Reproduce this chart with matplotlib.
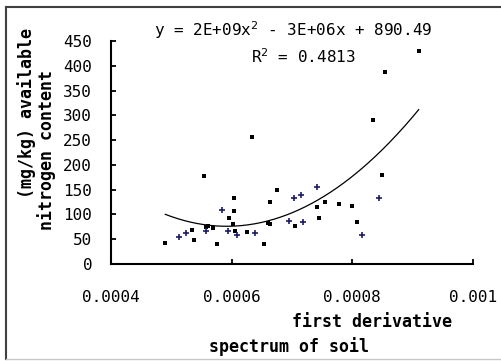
import numpy as np
import matplotlib
matplotlib.use("Agg")
import matplotlib.pyplot as plt
from matplotlib.lines import Line2D

# samples drawn with "+" markers (navy)
plus_x = [0.000512, 0.000525, 0.000558, 0.000584, 0.000594, 0.000609, 0.000639,
          0.000695, 0.000704, 0.000715, 0.000718, 0.000741, 0.000816, 0.000845]
plus_y = [54, 63, 67, 109, 67, 58, 62, 87, 134, 140, 84, 156, 58, 134]

# samples drawn with small black markers
dot_x = [0.000490, 0.000534, 0.000537, 0.000554, 0.000558, 0.000561, 0.000569,
         0.000576, 0.000596, 0.000604, 0.000604, 0.000602, 0.000605, 0.000625,
         0.000634, 0.000653, 0.000664, 0.000675, 0.000660, 0.000663, 0.000705,
         0.000741, 0.000744, 0.000755, 0.000778, 0.000800, 0.000808, 0.000834,
         0.000850, 0.000854, 0.000910]
dot_y = [42, 69, 49, 177, 74, 76, 72, 41, 92, 134, 107, 81, 67, 65,
         256, 41, 125, 149, 82, 80, 77, 116, 93, 126, 122, 118, 85, 290,
         180, 388, 429]

# polynomial trend line (as drawn)
coef = [2.325e9, -2.752e6, 890.49]
trend_range = [0.00049, 0.00091]

x_ticks = [0.0004, 0.0006, 0.0008, 0.001]
x_tick_labels = ["0.0004", "0.0006", "0.0008", "0.001"]
y_ticks = list(range(0, 451, 50))

W, H = 502, 361
fig = plt.figure(figsize=(W / 100, H / 100), dpi=100)
ax = fig.add_axes([111 / W, 1 - 264 / H, (473 - 111) / W, (264 - 41) / H])

mono = "DejaVu Sans Mono"

ax.plot(dot_x, dot_y, linestyle="none", marker="s", ms=2.3, color="black", mew=0)
ax.plot(plus_x, plus_y, linestyle="none", marker="+", ms=5, mew=1.2, color="#1c1c66")

xs = np.linspace(trend_range[0], trend_range[1], 200)
ax.plot(xs, np.polyval(coef, xs), color="black", lw=0.9)

ax.set_xlim(0.0004, 0.001)
ax.set_ylim(0, 450)
ax.set_xticks(x_ticks)
ax.set_xticklabels(x_tick_labels)
ax.set_yticks(y_ticks)
for s in ["top", "right"]:
    ax.spines[s].set_visible(False)
for s in ["left", "bottom"]:
    ax.spines[s].set_linewidth(1.5)
ax.tick_params(axis="both", direction="in", length=3.6, width=1.3,
               labelsize=11.5, colors="black")
ax.tick_params(axis="y", pad=13.5)
ax.tick_params(axis="x", pad=19)
for lab in ax.get_xticklabels() + ax.get_yticklabels():
    lab.set_family(mono)

# equation and R^2
fig.text(293 / W, 1 - 30 / H, "y = 2E+09x$^2$ - 3E+06x + 890.49", family=mono,
         fontsize=11.5, ha="center", va="center")
fig.text(303 / W, 1 - 57 / H, "R$^2$ = 0.4813", family=mono,
         fontsize=11.5, ha="center", va="center")

# axis titles
fig.text(27 / W, 1 - 113 / H, "(mg/kg) available", family=mono, fontweight="bold",
         fontsize=12, rotation=90, ha="center", va="center")
fig.text(47 / W, 1 - 150 / H, "nitrogen content", family=mono, fontweight="bold",
         fontsize=12, rotation=90, ha="center", va="center")
fig.text(372 / W, 1 - 322 / H, "first derivative", family=mono, fontweight="bold",
         fontsize=12, ha="center", va="center")
fig.text(289 / W, 1 - 347 / H, "spectrum of soil", family=mono, fontweight="bold",
         fontsize=12, ha="center", va="center")

# chart area frame
fig.add_artist(Line2D([6 / W, 501 / W], [1 - 7 / H, 1 - 7 / H], color="#404040", lw=1.5))
fig.add_artist(Line2D([6 / W, 6 / W], [1 - 7 / H, 1 - 359 / H], color="#404040", lw=1.5))
fig.add_artist(Line2D([6 / W, 501 / W], [1 - 359 / H, 1 - 359 / H], color="#c8c8c8", lw=1))

fig.savefig("out.png", dpi=100)
